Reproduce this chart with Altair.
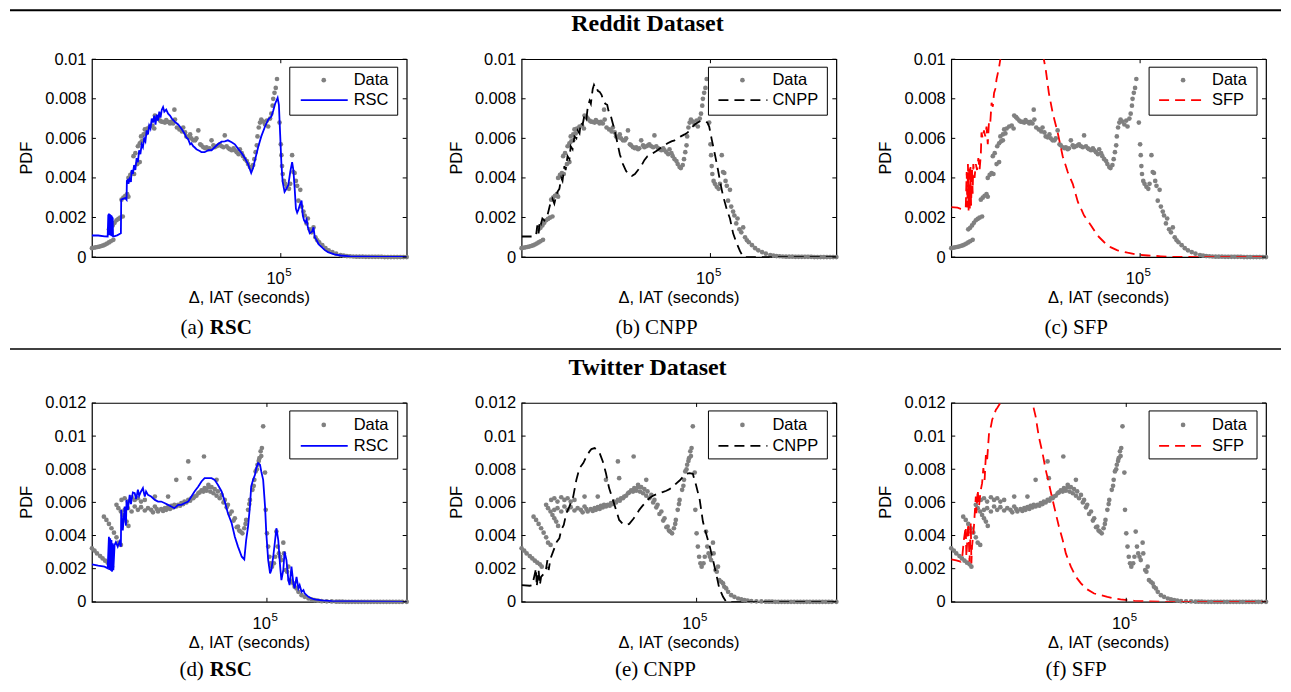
import altair as alt
import pandas as pd

# ---------------- data: (log10 of IAT in seconds, PDF) ----------------
reddit_data = [
    (2.00, 0.00045), (2.03, 0.00047), (2.06, 0.00049), (2.09, 0.00051), (2.12, 0.00053), (2.15, 0.00056),
    (2.18, 0.00059), (2.21, 0.00063), (2.24, 0.00068), (2.27, 0.00074), (2.30, 0.00080), (2.34, 0.00087),
    (2.27, 0.00140), (2.30, 0.00148), (2.33, 0.00160), (2.36, 0.00173), (2.39, 0.00186), (2.42, 0.00193),
    (2.45, 0.00199), (2.49, 0.00205),
    (2.47, 0.00290), (2.50, 0.00300), (2.53, 0.00310), (2.56, 0.00318), (2.58, 0.00305),
    (2.58, 0.00400), (2.61, 0.00415), (2.64, 0.00425), (2.67, 0.00420),
    (2.66, 0.00510), (2.69, 0.00525), (2.72, 0.00470), (2.76, 0.00480),
    (2.73, 0.00560), (2.76, 0.00575), (2.79, 0.00585), (2.82, 0.00590),
    (2.78, 0.00610), (2.82, 0.00620), (2.86, 0.00625),
    (2.84, 0.00645), (2.88, 0.00650), (2.92, 0.00660), (2.96, 0.00665), (2.99, 0.00650),
    (3.00, 0.00715), (3.03, 0.00707), (3.05, 0.00700), (3.08, 0.00690), (3.10, 0.00685), (3.13, 0.00683),
    (3.16, 0.00680), (3.18, 0.00692), (3.21, 0.00683), (3.24, 0.00675), (3.26, 0.00683), (3.29, 0.00675),
    (3.31, 0.00745), (3.32, 0.00695), (3.35, 0.00655), (3.39, 0.00645), (3.43, 0.00635), (3.45, 0.00655),
    (3.48, 0.00630), (3.50, 0.00610), (3.53, 0.00605), (3.56, 0.00620), (3.58, 0.00600), (3.61, 0.00590),
    (3.64, 0.00590), (3.66, 0.00600), (3.69, 0.00640), (3.72, 0.00570), (3.74, 0.00565), (3.77, 0.00555),
    (3.80, 0.00550), (3.82, 0.00555), (3.85, 0.00545), (3.87, 0.00550), (3.90, 0.00590), (3.93, 0.00565),
    (3.95, 0.00555), (3.98, 0.00560), (4.01, 0.00565), (4.03, 0.00570), (4.06, 0.00560), (4.09, 0.00555),
    (4.11, 0.00615), (4.14, 0.00560), (4.17, 0.00550), (4.19, 0.00545), (4.22, 0.00540), (4.25, 0.00550),
    (4.27, 0.00540), (4.30, 0.00530), (4.33, 0.00520), (4.35, 0.00545), (4.38, 0.00525), (4.40, 0.00510),
    (4.43, 0.00495), (4.46, 0.00485), (4.48, 0.00470), (4.51, 0.00455), (4.53, 0.00450), (4.56, 0.00465),
    (4.58, 0.00495), (4.60, 0.00530), (4.62, 0.00565), (4.63, 0.00610), (4.65, 0.00655), (4.67, 0.00680),
    (4.69, 0.00695), (4.72, 0.00685), (4.75, 0.00670), (4.78, 0.00690), (4.80, 0.00660), (4.83, 0.00700),
    (4.85, 0.00725), (4.87, 0.00765), (4.88, 0.00800), (4.90, 0.00830), (4.92, 0.00855), (4.94, 0.00900),
    (4.98, 0.00680), (5.00, 0.00570), (5.01, 0.00515), (5.02, 0.00460), (5.03, 0.00420), (5.05, 0.00385),
    (5.07, 0.00370), (5.10, 0.00355), (5.13, 0.00345), (5.15, 0.00370), (5.18, 0.00515), (5.20, 0.00430),
    (5.22, 0.00425), (5.24, 0.00385), (5.26, 0.00360), (5.28, 0.00285), (5.31, 0.00340), (5.33, 0.00255),
    (5.36, 0.00230), (5.38, 0.00210), (5.41, 0.00170), (5.43, 0.00195), (5.46, 0.00140), (5.49, 0.00125),
    (5.52, 0.00150), (5.55, 0.00100), (5.58, 0.00085), (5.61, 0.00075), (5.66, 0.00060), (5.71, 0.00045),
    (5.76, 0.00034), (5.82, 0.00025), (5.88, 0.00017), (5.95, 0.00010), (6.00, 0.00007), (6.05, 0.00005),
    (6.10, 0.00004), (6.15, 0.00003), (6.20, 0.00002), (6.25, 0.00002), (6.30, 0.00002), (6.35, 0.00001),
    (6.40, 0.00001), (6.45, 0.00001), (6.50, 0.00001), (6.55, 0.00001), (6.60, 0.00001), (6.65, 0.0),
    (6.70, 0.0), (6.75, 0.0), (6.80, 0.0), (6.85, 0.0), (6.90, 0.0), (6.95, 0.0), (7.00, 0.0),
]

reddit_rsc = [
    (2.00, 0.00109), (2.10, 0.00109), (2.20, 0.00105), (2.25, 0.00104), (2.26, 0.00215), (2.265, 0.00110),
    (2.27, 0.00220), (2.275, 0.00115), (2.28, 0.00218), (2.285, 0.00112), (2.29, 0.00215), (2.295, 0.00110),
    (2.30, 0.00212), (2.305, 0.00108), (2.31, 0.00210), (2.315, 0.00105), (2.32, 0.00205), (2.325, 0.00110),
    (2.33, 0.00200), (2.335, 0.00105), (2.35, 0.00105), (2.40, 0.00110), (2.46, 0.00120), (2.465, 0.00290),
    (2.50, 0.00295), (2.53, 0.00298), (2.55, 0.00290), (2.555, 0.00385), (2.57, 0.00390), (2.58, 0.00370),
    (2.60, 0.00395), (2.62, 0.00380), (2.63, 0.00440), (2.65, 0.00420), (2.67, 0.00465), (2.69, 0.00440),
    (2.71, 0.00500), (2.73, 0.00480), (2.75, 0.00540), (2.77, 0.00520), (2.79, 0.00570), (2.81, 0.00555),
    (2.83, 0.00600), (2.85, 0.00585), (2.87, 0.00640), (2.89, 0.00620), (2.91, 0.00665), (2.93, 0.00650),
    (2.95, 0.00700), (2.97, 0.00680), (2.99, 0.00715), (3.01, 0.00670), (3.03, 0.00720), (3.05, 0.00690),
    (3.07, 0.00735), (3.09, 0.00705), (3.11, 0.00745), (3.13, 0.00758), (3.15, 0.00735), (3.18, 0.00745),
    (3.21, 0.00725), (3.24, 0.00715), (3.27, 0.00700), (3.30, 0.00690), (3.33, 0.00680), (3.37, 0.00670),
    (3.42, 0.00650), (3.47, 0.00625), (3.50, 0.00605), (3.53, 0.00595), (3.56, 0.00570), (3.58, 0.00575),
    (3.61, 0.00560), (3.63, 0.00555), (3.66, 0.00545), (3.69, 0.00540), (3.72, 0.00535), (3.74, 0.00530),
    (3.79, 0.00530), (3.85, 0.00540), (3.90, 0.00540), (3.95, 0.00555), (4.00, 0.00570), (4.06, 0.00583),
    (4.11, 0.00585), (4.16, 0.00590), (4.22, 0.00580), (4.27, 0.00570), (4.32, 0.00548), (4.38, 0.00525),
    (4.43, 0.00500), (4.48, 0.00470), (4.53, 0.00425), (4.56, 0.00450), (4.59, 0.00490), (4.64, 0.00555),
    (4.69, 0.00610), (4.75, 0.00660), (4.80, 0.00695), (4.85, 0.00710), (4.88, 0.00740), (4.91, 0.00775),
    (4.95, 0.00805), (4.97, 0.00770), (4.99, 0.00620), (5.01, 0.00470), (5.03, 0.00380), (5.06, 0.00330),
    (5.09, 0.00345), (5.12, 0.00365), (5.15, 0.00430), (5.18, 0.00480), (5.20, 0.00440), (5.22, 0.00350),
    (5.24, 0.00245), (5.26, 0.00225), (5.28, 0.00240), (5.31, 0.00270), (5.33, 0.00285), (5.35, 0.00210),
    (5.37, 0.00185), (5.39, 0.00175), (5.41, 0.00190), (5.43, 0.00150), (5.46, 0.00120), (5.48, 0.00125),
    (5.50, 0.00130), (5.52, 0.00150), (5.54, 0.00100), (5.57, 0.00085), (5.60, 0.00065), (5.65, 0.00050),
    (5.70, 0.00035), (5.75, 0.00025), (5.85, 0.00014), (5.95, 0.00008), (6.10, 0.00004), (6.30, 0.00002),
    (6.60, 0.00001), (7.00, 0.00001),
]

reddit_cnpp = [
    (2.00, 0.00104), (2.10, 0.00104), (2.20, 0.00104), (2.23, 0.00110), (2.25, 0.00160), (2.27, 0.00120),
    (2.29, 0.00185), (2.31, 0.00170), (2.33, 0.00195), (2.36, 0.00185), (2.41, 0.00210), (2.46, 0.00275),
    (2.49, 0.00295), (2.52, 0.00270), (2.55, 0.00310), (2.57, 0.00330), (2.60, 0.00345), (2.63, 0.00400),
    (2.65, 0.00385), (2.68, 0.00460), (2.70, 0.00440), (2.73, 0.00510), (2.76, 0.00495), (2.78, 0.00560),
    (2.81, 0.00545), (2.84, 0.00610), (2.87, 0.00600), (2.89, 0.00640), (2.92, 0.00625), (2.94, 0.00680),
    (2.97, 0.00670), (3.00, 0.00720), (3.03, 0.00700), (3.05, 0.00755), (3.08, 0.00790), (3.10, 0.00775),
    (3.13, 0.00850), (3.15, 0.00870), (3.17, 0.00855), (3.19, 0.00860), (3.21, 0.00840), (3.24, 0.00835),
    (3.27, 0.00820), (3.30, 0.00790), (3.33, 0.00775), (3.36, 0.00770), (3.38, 0.00740), (3.42, 0.00710),
    (3.47, 0.00650), (3.52, 0.00580), (3.56, 0.00520), (3.61, 0.00470), (3.66, 0.00435), (3.71, 0.00415),
    (3.75, 0.00410), (3.80, 0.00420), (3.85, 0.00440), (3.90, 0.00460), (3.95, 0.00490), (4.00, 0.00510),
    (4.06, 0.00520), (4.11, 0.00530), (4.16, 0.00540), (4.22, 0.00555), (4.27, 0.00565), (4.32, 0.00575),
    (4.38, 0.00585), (4.43, 0.00590), (4.48, 0.00600), (4.53, 0.00610), (4.59, 0.00620), (4.64, 0.00630),
    (4.69, 0.00650), (4.75, 0.00670), (4.80, 0.00680), (4.85, 0.00690), (4.91, 0.00685), (4.95, 0.00680),
    (4.98, 0.00660), (5.02, 0.00595), (5.07, 0.00520), (5.12, 0.00440), (5.16, 0.00370), (5.20, 0.00310),
    (5.26, 0.00240), (5.31, 0.00195), (5.36, 0.00120), (5.41, 0.00075), (5.47, 0.00030), (5.52, 0.0),
    (5.60, 0.0), (6.00, 0.0), (6.50, 0.0), (7.00, 0.0),
]

reddit_sfp = [
    (2.00, 0.00252), (2.10, 0.00250), (2.15, 0.00244), (2.20, 0.00240), (2.23, 0.00250), (2.245, 0.00430),
    (2.255, 0.00250), (2.265, 0.00470), (2.275, 0.00235), (2.285, 0.00460), (2.295, 0.00245), (2.305, 0.00455),
    (2.315, 0.00260), (2.33, 0.00450), (2.34, 0.00320), (2.35, 0.00470), (2.37, 0.00400), (2.39, 0.00470),
    (2.41, 0.00440), (2.43, 0.00500), (2.45, 0.00440), (2.47, 0.00520), (2.48, 0.00630), (2.50, 0.00600),
    (2.52, 0.00640), (2.54, 0.00610), (2.56, 0.00660), (2.58, 0.00570), (2.60, 0.00690), (2.62, 0.00680),
    (2.64, 0.00780), (2.66, 0.00760), (2.68, 0.00830), (2.70, 0.00850), (2.72, 0.00900), (2.74, 0.00930),
    (2.76, 0.00960), (2.78, 0.01000), (2.85, 0.01150), (2.95, 0.01260), (3.05, 0.01320), (3.15, 0.01330),
    (3.25, 0.01280), (3.35, 0.01180), (3.47, 0.01000), (3.50, 0.00950), (3.55, 0.00830), (3.61, 0.00730),
    (3.69, 0.00630), (3.77, 0.00510), (3.85, 0.00430), (3.93, 0.00370), (4.01, 0.00280), (4.11, 0.00210),
    (4.22, 0.00160), (4.32, 0.00110), (4.43, 0.00075), (4.53, 0.00050), (4.64, 0.00034), (4.80, 0.00022),
    (4.96, 0.00012), (5.12, 0.00008), (5.33, 0.00004), (5.54, 0.00001), (6.00, 0.0), (7.00, 0.0),
]

twitter_data = [
    (2.22, 0.00323), (2.26, 0.00309), (2.30, 0.00292), (2.35, 0.00276), (2.39, 0.00262), (2.43, 0.00248),
    (2.47, 0.00236), (2.51, 0.00226), (2.54, 0.00212),
    (2.41, 0.00514), (2.45, 0.00494), (2.49, 0.00470), (2.53, 0.00444), (2.57, 0.00417), (2.61, 0.00389),
    (2.64, 0.00357), (2.68, 0.00343),
    (2.61, 0.00585), (2.64, 0.00565), (2.68, 0.00545), (2.71, 0.00524), (2.74, 0.00504), (2.77, 0.00484),
    (2.80, 0.00458),
    (2.69, 0.00615), (2.74, 0.00625), (2.79, 0.00605), (2.85, 0.00631), (2.90, 0.00615), (2.95, 0.00625),
    (3.00, 0.00605), (3.06, 0.00615),
    (2.74, 0.00555), (2.79, 0.00565), (2.85, 0.00545), (2.90, 0.00575), (2.95, 0.00555), (3.00, 0.00571),
    (3.06, 0.00551), (3.11, 0.00565), (3.16, 0.00555), (3.22, 0.00575), (3.27, 0.00545), (3.32, 0.00559),
    (3.38, 0.00565), (3.43, 0.00571), (3.48, 0.00579), (3.53, 0.00585), (3.59, 0.00585), (3.64, 0.00595),
    (3.69, 0.00605), (3.75, 0.00615), (3.80, 0.00625), (3.85, 0.00635), (3.91, 0.00655), (3.96, 0.00672),
    (4.01, 0.00686), (4.07, 0.00692), (4.12, 0.00692), (4.17, 0.00680), (4.22, 0.00666), (4.28, 0.00645),
    (4.33, 0.00615), (4.38, 0.00585), (4.44, 0.00545), (4.49, 0.00504), (4.54, 0.00454), (4.58, 0.00424),
    (4.61, 0.00413), (4.64, 0.00444), (4.67, 0.00494), (4.70, 0.00555), (4.73, 0.00615), (4.77, 0.00676),
    (4.80, 0.00736), (4.82, 0.00787), (4.85, 0.00827), (4.88, 0.00867), (4.90, 0.00908), (4.92, 0.00928),
    (4.94, 0.01059),
    (3.19, 0.00540), (3.25, 0.00560), (3.35, 0.00548), (3.40, 0.00555), (3.46, 0.00560), (3.51, 0.00570),
    (3.56, 0.00575), (3.62, 0.00580), (3.67, 0.00590), (3.72, 0.00600), (3.78, 0.00610), (3.83, 0.00625),
    (3.88, 0.00640), (3.93, 0.00660), (3.99, 0.00665), (4.04, 0.00670), (4.10, 0.00665), (4.15, 0.00655),
    (4.20, 0.00640), (4.25, 0.00625), (4.31, 0.00600), (4.36, 0.00570), (4.41, 0.00530), (4.47, 0.00490),
    (4.52, 0.00450), (4.56, 0.00430), (4.66, 0.00470), (4.72, 0.00590), (4.79, 0.00700), (4.84, 0.00800),
    (4.87, 0.00850), (4.91, 0.00880),
    (3.22, 0.00635), (3.43, 0.00635), (3.56, 0.00736), (3.75, 0.00847), (3.77, 0.00746), (4.00, 0.00877),
    (4.20, 0.00736), (4.07, 0.00706),
    (4.97, 0.00780), (4.98, 0.00555), (5.00, 0.00413), (5.02, 0.00333), (5.04, 0.00272), (5.06, 0.00232),
    (5.08, 0.00212), (5.11, 0.00232), (5.13, 0.00272), (5.15, 0.00424), (5.17, 0.00333), (5.19, 0.00292),
    (5.21, 0.00272), (5.23, 0.00252), (5.26, 0.00357), (5.27, 0.00292), (5.30, 0.00192), (5.32, 0.00182),
    (5.34, 0.00212), (5.36, 0.00131), (5.39, 0.00121), (5.42, 0.00111), (5.44, 0.00091), (5.47, 0.00081),
    (5.50, 0.00060), (5.55, 0.00040), (5.60, 0.00030), (5.66, 0.00020), (5.71, 0.00015), (5.76, 0.00010),
    (5.81, 0.00007), (5.87, 0.00004), (5.95, 0.00003), (6.03, 0.00002), (6.10, 0.00001), (6.15, 0.00001),
    (6.20, 0.00001), (6.25, 0.0), (6.30, 0.0), (6.35, 0.0), (6.40, 0.0), (6.45, 0.0), (6.50, 0.0),
    (6.55, 0.0), (6.60, 0.0), (6.65, 0.0), (6.70, 0.0), (6.75, 0.0), (6.80, 0.0), (6.85, 0.0), (6.90, 0.0),
    (6.95, 0.0), (7.00, 0.0), (7.05, 0.0), (7.10, 0.0), (7.15, 0.0), (7.22, 0.0),
]

twitter_rsc = [
    (2.22, 0.00226), (2.32, 0.00218), (2.42, 0.00212), (2.47, 0.00202), (2.49, 0.00393), (2.50, 0.00192),
    (2.51, 0.00383), (2.52, 0.00188), (2.53, 0.00373), (2.54, 0.00182), (2.55, 0.00353), (2.56, 0.00190),
    (2.58, 0.00343), (2.60, 0.00360), (2.63, 0.00333), (2.66, 0.00363), (2.68, 0.00333), (2.685, 0.00555),
    (2.71, 0.00430), (2.74, 0.00575), (2.76, 0.00460), (2.77, 0.00615), (2.79, 0.00555), (2.82, 0.00645),
    (2.84, 0.00590), (2.85, 0.00615), (2.87, 0.00660), (2.90, 0.00655), (2.92, 0.00620), (2.93, 0.00635),
    (2.95, 0.00676), (2.97, 0.00640), (3.00, 0.00666), (3.03, 0.00686), (3.05, 0.00650), (3.06, 0.00635),
    (3.08, 0.00666), (3.11, 0.00645), (3.16, 0.00635), (3.22, 0.00615), (3.27, 0.00605), (3.32, 0.00605),
    (3.38, 0.00595), (3.43, 0.00585), (3.48, 0.00575), (3.53, 0.00565), (3.59, 0.00585), (3.64, 0.00585),
    (3.69, 0.00595), (3.75, 0.00605), (3.80, 0.00635), (3.85, 0.00666), (3.91, 0.00696), (3.96, 0.00726),
    (4.01, 0.00746), (4.07, 0.00746), (4.12, 0.00746), (4.17, 0.00736), (4.22, 0.00706), (4.28, 0.00666),
    (4.33, 0.00605), (4.38, 0.00534), (4.44, 0.00474), (4.49, 0.00393), (4.54, 0.00333), (4.60, 0.00272),
    (4.64, 0.00256), (4.67, 0.00373), (4.70, 0.00454), (4.73, 0.00575), (4.75, 0.00696), (4.78, 0.00736),
    (4.81, 0.00766), (4.83, 0.00807), (4.86, 0.00837), (4.89, 0.00827), (4.91, 0.00787), (4.94, 0.00736),
    (4.97, 0.00575), (4.99, 0.00413), (5.02, 0.00252), (5.05, 0.00171), (5.07, 0.00192), (5.10, 0.00272),
    (5.13, 0.00373), (5.15, 0.00444), (5.18, 0.00373), (5.21, 0.00212), (5.23, 0.00131), (5.26, 0.00192),
    (5.28, 0.00303), (5.31, 0.00252), (5.34, 0.00131), (5.36, 0.00101), (5.39, 0.00212), (5.42, 0.00111),
    (5.44, 0.00081), (5.47, 0.00151), (5.50, 0.00081), (5.52, 0.00101), (5.55, 0.00060), (5.58, 0.00071),
    (5.60, 0.00050), (5.66, 0.00030), (5.71, 0.00020), (5.76, 0.00014), (5.87, 0.00008), (6.03, 0.00004),
    (6.29, 0.00002), (6.70, 0.00001), (7.22, 0.0),
]

twitter_cnpp = [
    (2.22, 0.00101), (2.35, 0.00097), (2.39, 0.00101), (2.42, 0.00151), (2.45, 0.00202), (2.46, 0.00091),
    (2.49, 0.00192), (2.51, 0.00101), (2.53, 0.00151), (2.58, 0.00171), (2.61, 0.00202), (2.63, 0.00252),
    (2.65, 0.00192), (2.68, 0.00262), (2.71, 0.00292), (2.75, 0.00333), (2.78, 0.00363), (2.82, 0.00383),
    (2.85, 0.00434), (2.89, 0.00464), (2.93, 0.00534), (2.98, 0.00575), (3.04, 0.00635), (3.09, 0.00736),
    (3.14, 0.00807), (3.20, 0.00837), (3.25, 0.00877), (3.30, 0.00908), (3.33, 0.00922), (3.38, 0.00928),
    (3.41, 0.00918), (3.46, 0.00897), (3.51, 0.00847), (3.56, 0.00776), (3.61, 0.00686), (3.67, 0.00615),
    (3.72, 0.00555), (3.77, 0.00494), (3.83, 0.00470), (3.88, 0.00464), (3.93, 0.00470), (3.99, 0.00498),
    (4.04, 0.00524), (4.09, 0.00555), (4.14, 0.00579), (4.20, 0.00605), (4.25, 0.00625), (4.30, 0.00639),
    (4.36, 0.00649), (4.41, 0.00655), (4.46, 0.00662), (4.52, 0.00670), (4.57, 0.00680), (4.62, 0.00692),
    (4.67, 0.00712), (4.73, 0.00732), (4.78, 0.00752), (4.83, 0.00772), (4.89, 0.00776), (4.94, 0.00772),
    (4.99, 0.00706), (5.05, 0.00615), (5.10, 0.00484), (5.15, 0.00413), (5.21, 0.00333), (5.26, 0.00252),
    (5.31, 0.00171), (5.36, 0.00081), (5.42, 0.00030), (5.47, 0.0), (5.60, 0.0), (5.87, 0.0), (6.40, 0.0),
    (7.22, 0.0),
]

twitter_sfp = [
    (2.22, 0.00256), (2.30, 0.00250), (2.37, 0.00242), (2.39, 0.00252), (2.42, 0.00373), (2.45, 0.00454),
    (2.46, 0.00272), (2.49, 0.00474), (2.51, 0.00242), (2.53, 0.00474), (2.54, 0.00232), (2.55, 0.00333),
    (2.58, 0.00454), (2.61, 0.00635), (2.62, 0.00534), (2.64, 0.00676), (2.66, 0.00575), (2.68, 0.00645),
    (2.69, 0.00676), (2.71, 0.00716), (2.73, 0.00807), (2.75, 0.00736), (2.77, 0.00887), (2.79, 0.00857),
    (2.82, 0.01018), (2.85, 0.01059), (2.87, 0.01099), (2.90, 0.01129), (2.93, 0.01160), (2.95, 0.01170),
    (3.00, 0.01200), (3.10, 0.01260), (3.20, 0.01300), (3.30, 0.01300), (3.40, 0.01260), (3.51, 0.01200),
    (3.56, 0.01119), (3.61, 0.00998), (3.67, 0.00897), (3.72, 0.00797), (3.77, 0.00716), (3.83, 0.00615),
    (3.88, 0.00534), (3.93, 0.00454), (3.99, 0.00373), (4.04, 0.00292), (4.12, 0.00212), (4.20, 0.00151),
    (4.28, 0.00111), (4.38, 0.00075), (4.49, 0.00050), (4.60, 0.00040), (4.70, 0.00030), (4.81, 0.00020),
    (4.91, 0.00014), (5.02, 0.00010), (5.13, 0.00006), (5.23, 0.00004), (5.34, 0.00002), (5.55, 0.0),
    (6.00, 0.0), (7.22, 0.0),
]

reddit_x_domain = [1e2, 1e7]
twitter_x_domain = [10 ** 2.22, 10 ** 7.22]
reddit_y_ticks = [0, 0.002, 0.004, 0.006, 0.008, 0.01]
twitter_y_ticks = [0, 0.002, 0.004, 0.006, 0.008, 0.01, 0.012]
x_tick_values = [1e5]

# ---------------- helpers ----------------
SANS = "Liberation Sans"
SERIF = "Liberation Serif"
W = 315
ONE = pd.DataFrame({"k": [0]})


def frame(pairs):
    return pd.DataFrame({
        "iat": [10 ** a for a, b in pairs],
        "pdf": [b for a, b in pairs],
        "i": list(range(len(pairs))),
    })


def txt(text, x, y, size=16.5, font=SANS, weight="normal", align="left", angle=None):
    kw = dict(text=text, font=font, fontSize=size, fontWeight=weight, align=align,
              baseline="middle", color="black")
    if angle is not None:
        kw["angle"] = angle
    return alt.Chart(ONE).mark_text(**kw).encode(x=alt.value(x), y=alt.value(y))


def hrule(x1, x2, y, sw, color="black", dash=None):
    kw = dict(color=color, strokeWidth=sw)
    if dash:
        kw["strokeDash"] = dash
    return alt.Chart(ONE).mark_rule(**kw).encode(x=alt.value(x1), x2=alt.value(x2), y=alt.value(y))


def panel(data_pairs, model_pairs, name, color, dash, xdom, ymax, yticks, H,
          caption, cap_x, cap_dy, leg, rows, extra=()):
    xs = alt.Scale(type="log", domain=xdom)
    ys = alt.Scale(domain=[0, ymax])
    yaxis = alt.Axis(values=yticks, format="~g", title=None, ticks=False, domain=False, grid=False,
                     labelFont=SANS, labelFontSize=16.5, labelColor="black", labelPadding=6)

    def X(f):
        return alt.X(f, scale=xs, axis=None)

    def Y(f):
        return alt.Y(f, scale=ys, axis=yaxis)

    dots = alt.Chart(frame(data_pairs)).mark_circle(size=22, color="#808080", opacity=1).encode(
        x=X("iat:Q"), y=Y("pdf:Q"))
    lkw = dict(color=color, strokeWidth=1.8, clip=True)
    if dash:
        lkw["strokeDash"] = dash
    model = alt.Chart(frame(model_pairs)).mark_line(**lkw).encode(
        x=X("iat:Q"), y=Y("pdf:Q"), order=alt.Order("i:Q"))

    ydf = pd.DataFrame({"v": yticks})
    xdf = pd.DataFrame({"v": x_tick_values})
    rk = dict(color="black", strokeWidth=1)
    yt_l = alt.Chart(ydf).mark_rule(**rk).encode(y=Y("v:Q"), x=alt.value(0), x2=alt.value(4))
    yt_r = alt.Chart(ydf).mark_rule(**rk).encode(y=Y("v:Q"), x=alt.value(W - 4), x2=alt.value(W))
    xt_t = alt.Chart(xdf).mark_rule(**rk).encode(x=X("v:Q"), y=alt.value(0), y2=alt.value(4))
    xt_b = alt.Chart(xdf).mark_rule(**rk).encode(x=X("v:Q"), y=alt.value(H - 4), y2=alt.value(H))
    lab10 = alt.Chart(xdf).mark_text(text="10", align="right", dx=4, baseline="middle", font=SANS,
                                     fontSize=16.5, color="black").encode(x=X("v:Q"), y=alt.value(H + 22))
    lab5 = alt.Chart(xdf).mark_text(text="5", align="left", dx=4.5, baseline="middle", font=SANS,
                                    fontSize=11.5, color="black").encode(x=X("v:Q"), y=alt.value(H + 16))

    bx1, bx2, dotx, lx1, lx2, tx = leg
    r1, r2 = rows
    box = alt.Chart(ONE).mark_rect(fill="white", stroke="black", strokeWidth=1).encode(
        x=alt.value(bx1), x2=alt.value(bx2), y=alt.value(8), y2=alt.value(56))
    ldot = alt.Chart(ONE).mark_circle(size=22, color="#808080", opacity=1).encode(
        x=alt.value(dotx), y=alt.value(r1))
    lline = hrule(lx1, lx2, r2, 1.8, color=color, dash=dash)
    t1 = txt("Data", tx, r1)
    t2 = txt(name, tx, r2)

    xtitle = txt("\u0394, IAT (seconds)", W / 2, H + 41, align="center")
    ytitle = txt("PDF", -65, H / 2, align="center", angle=270)

    if isinstance(caption, tuple):
        caps = [txt(caption[0], 112, H + cap_dy, size=21, font=SERIF, align="right"),
                txt(caption[1], 118, H + cap_dy, size=21, font=SERIF, weight="bold", align="left")]
    else:
        caps = [txt(caption, cap_x, H + cap_dy, size=21, font=SERIF, align="center")]

    return alt.layer(dots, model, yt_l, yt_r, xt_t, xt_b, lab10, lab5, box, ldot, lline, t1, t2,
                     xtitle, ytitle, *caps, *extra).properties(width=W, height=H)


BLUE, BLACK, RED = "#0000ff", "#000000", "#ff0000"
DASH = [10, 6]
LEG_A = (198, 306, 232, 209, 256, 262)
LEG_B = (187, 306, 221, 197, 246, 251)
LEG_C = (198, 306, 232, 208, 255, 261)

head_r = [hrule(-512, 760, -49, 2),
          txt("Reddit Dataset", 126, -35, size=24, font=SERIF, weight="bold", align="center")]
head_t = [hrule(-512, 760, -54, 1.3),
          txt("Twitter Dataset", 126, -35, size=24, font=SERIF, weight="bold", align="center")]

pa = panel(reddit_data, reddit_rsc, "RSC", BLUE, None, reddit_x_domain, 0.01, reddit_y_ticks, 198,
           ("(a)", "RSC"), 125, 71, LEG_A, (21, 41))
pb = panel(reddit_data, reddit_cnpp, "CNPP", BLACK, DASH, reddit_x_domain, 0.01, reddit_y_ticks, 198,
           "(b) CNPP", 135, 71, LEG_B, (21, 41), head_r)
pc = panel(reddit_data, reddit_sfp, "SFP", RED, DASH, reddit_x_domain, 0.01, reddit_y_ticks, 198,
           "(c) SFP", 125, 71, LEG_C, (21, 41))
pd_ = panel(twitter_data, twitter_rsc, "RSC", BLUE, None, twitter_x_domain, 0.012, twitter_y_ticks, 199,
            ("(d)", "RSC"), 125, 68, LEG_A, (22, 43))
pe = panel(twitter_data, twitter_cnpp, "CNPP", BLACK, DASH, twitter_x_domain, 0.012, twitter_y_ticks, 199,
           "(e) CNPP", 134, 68, LEG_B, (22, 43), head_t)
pf = panel(twitter_data, twitter_sfp, "SFP", RED, DASH, twitter_x_domain, 0.012, twitter_y_ticks, 199,
           "(f) SFP", 125, 68, LEG_C, (22, 43))

chart = alt.concat(pa, pb, pc, pd_, pe, pf, columns=3, spacing={"row": 146, "column": 115},
                   bounds="flush").properties(padding=0, background="white").configure_view(
    stroke="black", strokeWidth=1.2)

chart.save("out.html", embed_options={"renderer": "svg", "actions": False})
